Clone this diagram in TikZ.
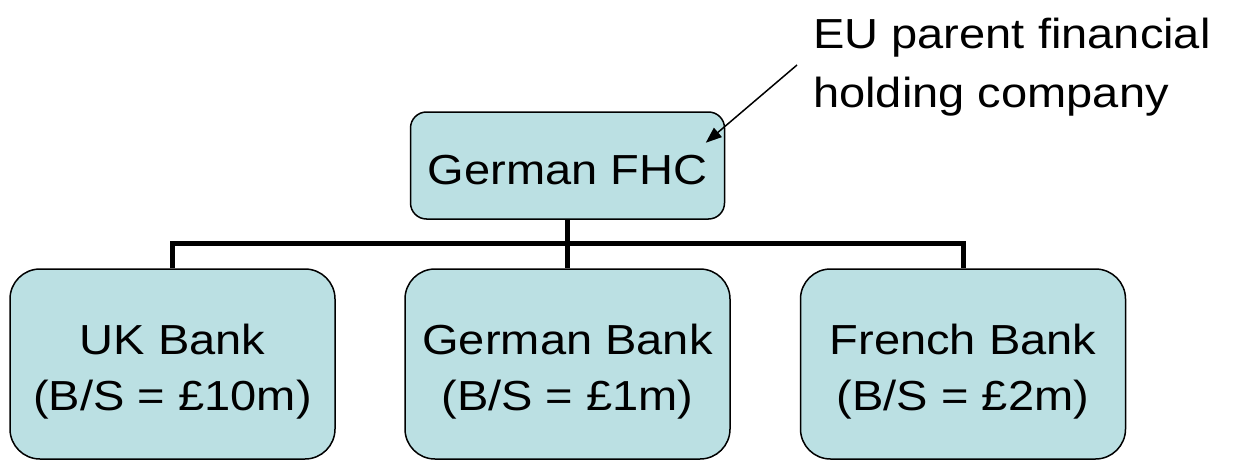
\documentclass[tikz,border=0pt]{standalone}
\usepackage{fontspec}
\setmainfont[FakeStretch=1.12]{Liberation Sans}
\usetikzlibrary{arrows.meta}
\definecolor{boxfill}{RGB}{187,224,227}
\begin{document}
\begin{tikzpicture}[x=1pt, y=-1pt,
  orgbox/.style={draw=black, line width=1.5pt, fill=boxfill, rounded corners=#1,
    inner sep=0pt, align=center, font=\fontsize{42}{56}\selectfont},
  headbox/.style={orgbox=16pt, minimum width=314pt, minimum height=107pt,
    text height=37pt, text depth=0pt},
  bankbox/.style={orgbox=30pt, minimum width=325pt, minimum height=190pt},
  bus/.style={draw=black, line width=5pt, line join=miter},
  pointer/.style={draw=black, line width=1.5pt, -{Triangle[length=16pt, width=12pt]}},
  note/.style={inner sep=0pt, align=left, font=\fontsize{42}{59}\selectfont}
]
\useasboundingbox (0,0) rectangle (1233,460);

% parent company
\node[headbox] (fhc) at (567.5,165.5) {German FHC};

% subsidiaries
\node[bankbox] (uk) at (172.5,364) {\rule{0pt}{46.5pt}UK Bank\\(B/S = £10m)};
\node[bankbox] (gb) at (567.5,364) {\rule{0pt}{46.5pt}German Bank\\(B/S = £1m)};
\node[bankbox] (fr) at (963,364) {\rule{0pt}{46.5pt}French Bank\\(B/S = £2m)};

% ownership lines
\draw[bus] (fhc.south) -- (gb.north);
\draw[bus] (uk.north) -- ++(0,-25) -| (fr.north);

% annotation
\node[note, anchor=west] (lbl) at (813,66.7) {EU parent financial\\holding company};
\coordinate (arrowstart) at (797,65);
\coordinate (arrowtip) at ([xshift=-19.5pt, yshift=-31.5pt]fhc.north east);
\draw[pointer] (arrowstart) -- (arrowtip);
\end{tikzpicture}
\end{document}
